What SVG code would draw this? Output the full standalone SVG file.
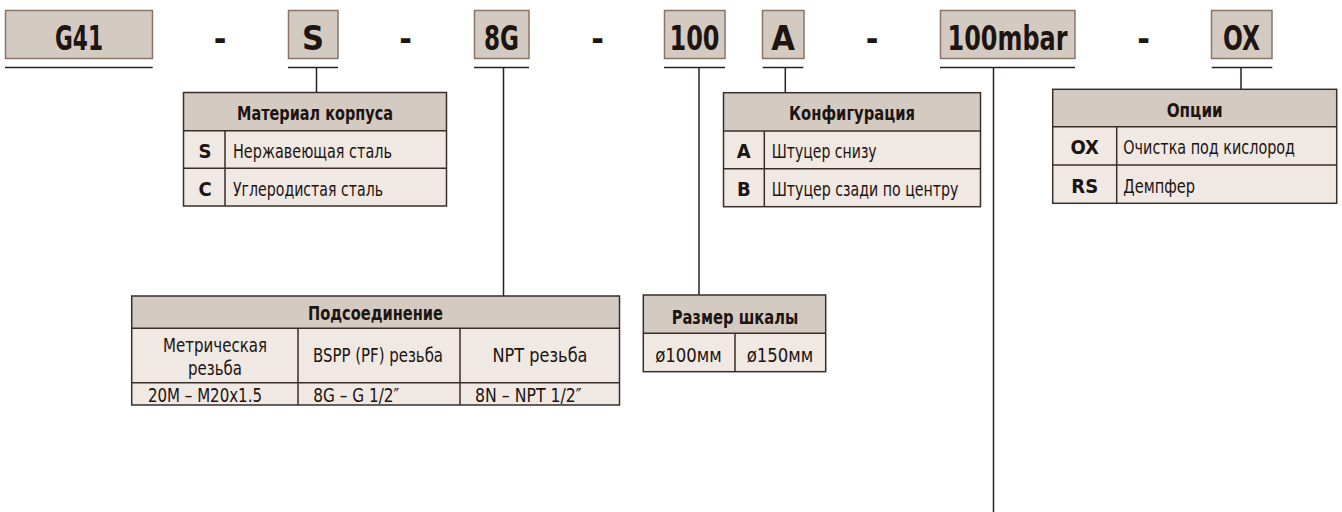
<svg xmlns="http://www.w3.org/2000/svg" width="1342" height="512" viewBox="0 0 1342 512">
<style>
text{font-family:'Liberation Sans Narrow','DejaVu Sans Condensed','Liberation Sans',sans-serif;fill:#1e1410}
.code{font-size:34px;font-weight:bold;text-anchor:middle}
.cbox{fill:#d3cbc1;stroke:#8b7466;stroke-width:1.5}
.hd{fill:#d3cbc2}
.rw{fill:#efe8e3}
.grid{fill:none;stroke:#3a2e28;stroke-width:1.5}
.th{font-size:20px;font-weight:bold;text-anchor:middle}
.tk{font-size:20px;font-weight:bold;text-anchor:middle}
.td{font-size:20px}
.tc{font-size:20px;text-anchor:middle}
.con{stroke:#2a2020;stroke-width:1.5;fill:none}
</style>
<rect width="1342" height="512" fill="#ffffff"/>

<g id="connectors">
<line class="con" x1="5" y1="67.5" x2="152.7" y2="67.5"/>
<line class="con" x1="288" y1="67.5" x2="338" y2="67.5"/>
<line class="con" x1="316.5" y1="67.5" x2="316.5" y2="92.5"/>
<line class="con" x1="474" y1="67.5" x2="529" y2="67.5"/>
<line class="con" x1="503.5" y1="67.5" x2="503.5" y2="296"/>
<line class="con" x1="664" y1="67.5" x2="725" y2="67.5"/>
<line class="con" x1="699" y1="67.5" x2="699" y2="295"/>
<line class="con" x1="762.7" y1="67.5" x2="803.3" y2="67.5"/>
<line class="con" x1="785.3" y1="67.5" x2="785.3" y2="92.7"/>
<line class="con" x1="940" y1="67.5" x2="1075" y2="67.5"/>
<line class="con" x1="993.5" y1="67.5" x2="993.5" y2="512"/>
<line class="con" x1="1211.7" y1="67.5" x2="1272.3" y2="67.5"/>
<line class="con" x1="1241" y1="67.5" x2="1241" y2="89.3"/>
</g>

<g id="code-G41">
<rect class="cbox" x="5.5" y="10.5" width="147" height="48"/>
<text class="code" x="79" y="50" textLength="48" lengthAdjust="spacingAndGlyphs">G41</text>
</g>
<g id="dash-1"><text class="code" x="220" y="50">-</text></g>
<g id="code-S">
<rect class="cbox" x="288.5" y="10.5" width="49.5" height="48"/>
<text class="code" x="313" y="50">S</text>
</g>
<g id="dash-2"><text class="code" x="405.5" y="50">-</text></g>
<g id="code-8G">
<rect class="cbox" x="474.5" y="10.5" width="54.5" height="48"/>
<text class="code" x="501.5" y="50" textLength="35" lengthAdjust="spacingAndGlyphs">8G</text>
</g>
<g id="dash-3"><text class="code" x="597.5" y="50">-</text></g>
<g id="code-100">
<rect class="cbox" x="664.5" y="10.5" width="60.5" height="48"/>
<text class="code" x="694.5" y="50" textLength="50" lengthAdjust="spacingAndGlyphs">100</text>
</g>
<g id="code-A">
<rect class="cbox" x="762.5" y="10.5" width="41.5" height="48"/>
<text class="code" x="783" y="50">A</text>
</g>
<g id="dash-4"><text class="code" x="872" y="50">-</text></g>
<g id="code-100mbar">
<rect class="cbox" x="940.5" y="10.5" width="134.5" height="48"/>
<text class="code" x="1007.5" y="50" textLength="120" lengthAdjust="spacingAndGlyphs">100mbar</text>
</g>
<g id="dash-5"><text class="code" x="1143.5" y="50">-</text></g>
<g id="code-OX">
<rect class="cbox" x="1211.5" y="10.5" width="60.5" height="48"/>
<text class="code" x="1241.5" y="50" textLength="37" lengthAdjust="spacingAndGlyphs">OX</text>
</g>

<g id="table-material">
<rect class="hd" x="183.5" y="92.5" width="263" height="38.2"/>
<rect class="rw" x="183.5" y="130.7" width="263" height="75.3"/>
<rect class="grid" x="183.5" y="92.5" width="263" height="113.5"/>
<line class="grid" x1="183.5" y1="130.7" x2="446.5" y2="130.7"/>
<line class="grid" x1="183.5" y1="168.3" x2="446.5" y2="168.3"/>
<line class="grid" x1="225" y1="130.7" x2="225" y2="206"/>
<text class="th" x="315" y="120" textLength="156" lengthAdjust="spacingAndGlyphs">Материал корпуса</text>
<text class="tk" x="205" y="158">S</text>
<text class="td" x="233" y="158" textLength="159" lengthAdjust="spacingAndGlyphs">Нержавеющая сталь</text>
<text class="tk" x="205" y="195.7">C</text>
<text class="td" x="233" y="195.7" textLength="150" lengthAdjust="spacingAndGlyphs">Углеродистая сталь</text>
</g>

<g id="table-config">
<rect class="hd" x="723.5" y="92.7" width="257" height="38.3"/>
<rect class="rw" x="723.5" y="131" width="257" height="75.7"/>
<rect class="grid" x="723.5" y="92.7" width="257" height="114"/>
<line class="grid" x1="723.5" y1="131" x2="980.5" y2="131"/>
<line class="grid" x1="723.5" y1="168.7" x2="980.5" y2="168.7"/>
<line class="grid" x1="764.3" y1="131" x2="764.3" y2="206.7"/>
<text class="th" x="852" y="120.3" textLength="126" lengthAdjust="spacingAndGlyphs">Конфигурация</text>
<text class="tk" x="743.8" y="158.3">A</text>
<text class="td" x="771.7" y="158.3" textLength="105" lengthAdjust="spacingAndGlyphs">Штуцер снизу</text>
<text class="tk" x="743.8" y="196.2">B</text>
<text class="td" x="771.7" y="196.2" textLength="186.7" lengthAdjust="spacingAndGlyphs">Штуцер сзади по центру</text>
</g>

<g id="table-options">
<rect class="hd" x="1052.7" y="89.3" width="284" height="37.4"/>
<rect class="rw" x="1052.7" y="126.7" width="284" height="76.6"/>
<rect class="grid" x="1052.7" y="89.3" width="284" height="114"/>
<line class="grid" x1="1052.7" y1="126.7" x2="1336.7" y2="126.7"/>
<line class="grid" x1="1052.7" y1="165" x2="1336.7" y2="165"/>
<line class="grid" x1="1116.7" y1="126.7" x2="1116.7" y2="203.3"/>
<text class="th" x="1194.7" y="116.5" textLength="56" lengthAdjust="spacingAndGlyphs">Опции</text>
<text class="tk" x="1084.7" y="154.3">OX</text>
<text class="td" x="1123.3" y="154.3" textLength="171.7" lengthAdjust="spacingAndGlyphs">Очистка под кислород</text>
<text class="tk" x="1084.7" y="192.7">RS</text>
<text class="td" x="1123.3" y="192.7" textLength="71.7" lengthAdjust="spacingAndGlyphs">Демпфер</text>
</g>

<g id="table-connection">
<rect class="hd" x="131.7" y="296" width="487.8" height="32.3"/>
<rect class="rw" x="131.7" y="328.3" width="487.8" height="76.7"/>
<rect class="grid" x="131.7" y="296" width="487.8" height="109"/>
<line class="grid" x1="131.7" y1="328.3" x2="619.5" y2="328.3"/>
<line class="grid" x1="131.7" y1="382.7" x2="619.5" y2="382.7"/>
<line class="grid" x1="298" y1="328.3" x2="298" y2="405"/>
<line class="grid" x1="460" y1="328.3" x2="460" y2="405"/>
<text class="th" x="375.5" y="320" textLength="135" lengthAdjust="spacingAndGlyphs">Подсоединение</text>
<text class="tc" x="215" y="351.5" textLength="104" lengthAdjust="spacingAndGlyphs">Метрическая</text>
<text class="tc" x="215" y="375" textLength="54" lengthAdjust="spacingAndGlyphs">резьба</text>
<text class="tc" x="378" y="362" textLength="130" lengthAdjust="spacingAndGlyphs">BSPP (PF) резьба</text>
<text class="tc" x="540" y="362" textLength="95" lengthAdjust="spacingAndGlyphs">NPT резьба</text>
<text class="td" x="148" y="401.5" textLength="114" lengthAdjust="spacingAndGlyphs">20M – M20x1.5</text>
<text class="td" x="313.3" y="401.5" textLength="86" lengthAdjust="spacingAndGlyphs">8G – G 1/2″</text>
<text class="td" x="475" y="401.5" textLength="106.7" lengthAdjust="spacingAndGlyphs">8N – NPT 1/2″</text>
</g>

<g id="table-scale">
<rect class="hd" x="643.3" y="295" width="182.4" height="38.3"/>
<rect class="rw" x="643.3" y="333.3" width="182.4" height="38.4"/>
<rect class="grid" x="643.3" y="295" width="182.4" height="76.7"/>
<line class="grid" x1="643.3" y1="333.3" x2="825.7" y2="333.3"/>
<line class="grid" x1="735" y1="333.3" x2="735" y2="371.7"/>
<text class="th" x="735" y="324" textLength="126.7" lengthAdjust="spacingAndGlyphs">Размер шкалы</text>
<text class="tc" x="688.5" y="362" textLength="66.7" lengthAdjust="spacingAndGlyphs">ø100мм</text>
<text class="tc" x="780" y="362" textLength="66.7" lengthAdjust="spacingAndGlyphs">ø150мм</text>
</g>
</svg>
